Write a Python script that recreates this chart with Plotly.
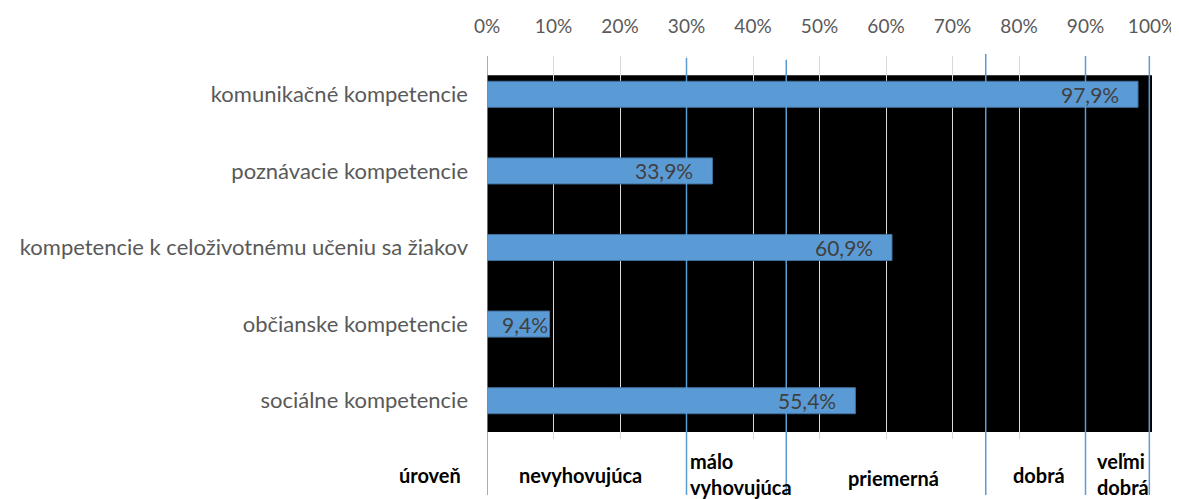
import plotly.graph_objects as go

categories = ["komunikačné kompetencie", "poznávacie kompetencie",
              "kompetencie k celoživotnému učeniu sa žiakov",
              "občianske kompetencie", "sociálne kompetencie"]
values = [97.9, 33.9, 60.9, 9.4, 55.4]
thresholds = [0, 30, 45, 75, 90, 100]
level_labels = ["nevyhovujúca", "málo<br>vyhovujúca", "priemerná", "dobrá", "veľmi<br>dobrá"]
tick_vals = list(range(0, 101, 10))

# styling / placement (not data)
level_x = [14.0, 30.2, 61.1, 83.0, 91.4]
level_anchor = ["center", "left", "center", "center", "left"]
level_y = [-0.095, -0.092, -0.102, -0.095, -0.092]
label_shift = [-17, -17, -17, 0, -17]
line_tops = [1.0, 0.995, 0.99, 1.005, 1.0, 1.0]

FONT = "Lato"
texts = [f"{v:.1f}".replace(".", ",") + "%" for v in values]

fig = go.Figure()
fig.add_trace(go.Bar(
    y=categories, x=values, orientation="h", width=0.34,
    marker=dict(color="#5B9BD5", line=dict(color="#41719C", width=1)),
    hoverinfo="x+y",
))

shapes = [dict(type="rect", xref="x", yref="paper", x0=0, x1=100.2, y0=0.018, y1=0.950,
               fillcolor="black", line=dict(width=0), layer="below")]
for t, top in zip(thresholds, line_tops):
    xv = t if t < 100 else 99.6
    shapes.append(dict(type="line", xref="x", yref="paper", x0=xv, x1=xv, y0=-0.146, y1=top,
                       line=dict(color="#5B9BD5", width=1.5), layer="above"))

annotations = []
for cat, v, txt, sh in zip(categories, values, texts, label_shift):
    annotations.append(dict(text=txt, x=v, y=cat, xref="x", yref="y", xanchor="right",
                            yanchor="middle", xshift=sh, showarrow=False,
                            font=dict(family=FONT, size=21, color="#404040")))
annotations.append(dict(text="<b>úroveň</b>", xref="paper", yref="paper", x=-0.036, y=-0.095,
                        xanchor="right", yanchor="middle", showarrow=False,
                        font=dict(family=FONT, size=20, color="black")))
for lab, xv, anc, yv in zip(level_labels, level_x, level_anchor, level_y):
    annotations.append(dict(text=f"<b>{lab}</b>", xref="x", yref="paper", x=xv, y=yv,
                            xanchor=anc, yanchor="middle", align="left", showarrow=False,
                            font=dict(family=FONT, size=20, color="black")))

# page body has an 8px margin, so the figure is sized to end at the window edge
fig.update_layout(
    width=1171, height=491,
    margin=dict(l=479, r=27, t=48, b=60, autoexpand=False),
    paper_bgcolor="white", plot_bgcolor="white",
    showlegend=False,
    shapes=shapes, annotations=annotations,
    xaxis=dict(side="top", range=[0, 100], tickvals=tick_vals,
               ticktext=[f"{v}%" for v in tick_vals],
               showgrid=True, gridcolor="#D9D9D9", gridwidth=1, zeroline=False,
               tickfont=dict(family=FONT, size=19, color="#595959"), ticks="",
               ticklabelstandoff=18, automargin=False,
               showline=False, fixedrange=True),
    yaxis=dict(autorange="reversed", showgrid=False, zeroline=False, ticks="",
               tickfont=dict(family=FONT, size=22, color="#595959"),
               ticklabelstandoff=18, automargin=False, fixedrange=True),
)

fig.write_html("out.html")
